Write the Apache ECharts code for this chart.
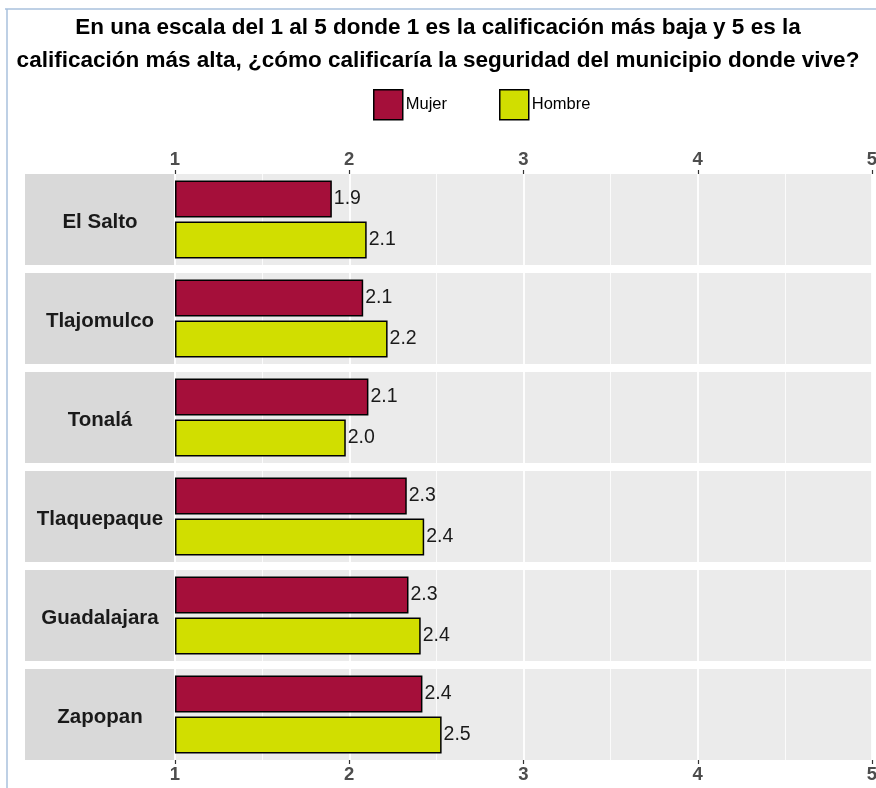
<!DOCTYPE html>
<html>
<head>
<meta charset="utf-8">
<script src="https://cdn.jsdelivr.net/npm/echarts@6/dist/echarts.min.js"></script>
<style>
html, body { margin: 0; padding: 0; background: #fff; }
#chart { width: 876px; height: 788px; }
</style>
</head>
<body>
<div id="chart"></div>
<script>
// datos
const municipios = ['El Salto', 'Tlajomulco', 'Tonalá', 'Tlaquepaque', 'Guadalajara', 'Zapopan']
const mujer = [1.9, 2.08, 2.11, 2.33, 2.34, 2.42]
const hombre = [2.1, 2.22, 1.98, 2.43, 2.41, 2.53]
const xTicks = [1, 2, 3, 4, 5]

const FONT = 'Liberation Sans, Arial, sans-serif'
const colMujer = '#A50F3A'
const colHombre = '#D1DE00'
const rowTop = 174
const rowH = 91
const rowStep = 99
const panelLeft = 175
const stripLeft = 25

const chart = echarts.init(document.getElementById('chart'))

const grids = []
const xAxes = []
const yAxes = []
const series = []
const graphics = [
  // marco azul del documento
  { type: 'line', shape: { x1: 5, y1: 9, x2: 876, y2: 9 }, style: { stroke: '#A9C0DC', lineWidth: 1.5 } },
  { type: 'line', shape: { x1: 7, y1: 9, x2: 7, y2: 788 }, style: { stroke: '#A9C0DC', lineWidth: 1.5 } }
]

const barLabel = {
  show: true,
  position: 'right',
  distance: 2,
  fontSize: 19.5,
  fontFamily: FONT,
  color: '#1a1a1a',
  padding: [3, 0, 0, 0],
  formatter: p => p.value.toFixed(1)
}

municipios.forEach((m, i) => {
  const top = rowTop + i * rowStep
  const showAxis = i === 0 || i === municipios.length - 1
  grids.push({
    left: panelLeft, right: 4, top: top, height: rowH,
    outerBoundsMode: 'none',
    show: true, backgroundColor: '#EBEBEB', borderWidth: 0
  })
  xAxes.push({
    gridIndex: i,
    type: 'value',
    min: xTicks[0],
    max: xTicks[xTicks.length - 1],
    interval: 1,
    startValue: 1,
    position: i === municipios.length - 1 ? 'bottom' : 'top',
    axisLine: { show: false },
    axisTick: { show: showAxis, length: 4, lineStyle: { color: '#333', width: 1.2 } },
    axisLabel: {
      show: showAxis, margin: 5, fontSize: 18.5, fontWeight: 'bold',
      fontFamily: FONT, color: '#4D4D4D'
    },
    splitLine: { show: true, lineStyle: { color: '#fff', width: 1.8 } },
    minorTick: { show: false, splitNumber: 2 },
    minorSplitLine: { show: true, lineStyle: { color: '#fff', width: 0.8 } }
  })
  yAxes.push({
    gridIndex: i,
    type: 'category',
    data: [m],
    inverse: true,
    axisLine: { show: false },
    axisTick: { show: false },
    axisLabel: { show: false },
    splitLine: { show: false }
  })
  series.push({
    name: 'Mujer', type: 'bar', xAxisIndex: i, yAxisIndex: i,
    data: [mujer[i]], barWidth: 37, barGap: '11%',
    itemStyle: { color: colMujer, borderColor: '#000', borderWidth: 1.5 },
    label: barLabel
  })
  series.push({
    name: 'Hombre', type: 'bar', xAxisIndex: i, yAxisIndex: i,
    data: [hombre[i]], barWidth: 37, barGap: '11%',
    itemStyle: { color: colHombre, borderColor: '#000', borderWidth: 1.5 },
    label: barLabel
  })
  // franja gris con el nombre del municipio
  graphics.push({
    type: 'rect', z: 0,
    shape: { x: stripLeft, y: top, width: panelLeft - stripLeft, height: rowH },
    style: { fill: '#D9D9D9' }
  })
  graphics.push({
    type: 'text', z: 1,
    x: (stripLeft + panelLeft) / 2, y: top + rowH / 2 + 3,
    style: {
      text: m, font: 'bold 20.5px ' + FONT, fill: '#1a1a1a',
      align: 'center', verticalAlign: 'middle'
    }
  })
})

const option = {
  animation: false,
  title: {
    text: 'En una escala del 1 al 5 donde 1 es la calificación más baja y 5 es la\ncalificación más alta, ¿cómo calificaría la seguridad del municipio donde vive?',
    left: 'center',
    top: 6,
    textStyle: { fontSize: 22.5, fontWeight: 'bold', fontFamily: FONT, color: '#000', lineHeight: 33 }
  },
  legend: {
    data: ['Mujer', 'Hombre'],
    left: 368,
    top: 84,
    icon: 'rect',
    itemWidth: 29,
    itemHeight: 30,
    itemGap: 52,
    textStyle: { fontSize: 16.5, fontFamily: FONT, color: '#000', padding: [0, 0, 0, -2] },
    itemStyle: { borderColor: '#000', borderWidth: 1.5 }
  },
  grid: grids,
  xAxis: xAxes,
  yAxis: yAxes,
  series: series,
  graphic: graphics
}

chart.setOption(option)
</script>
</body>
</html>
